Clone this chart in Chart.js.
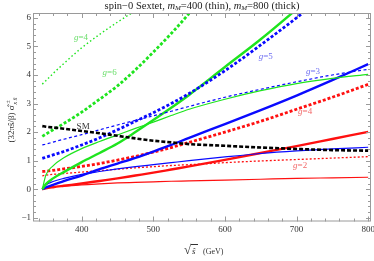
<!DOCTYPE html>
<html>
<head>
<meta charset="utf-8">
<script src="https://cdn.jsdelivr.net/npm/chart.js@4"></script>
<style>
  html, body { margin: 0; padding: 0; background: #fff; }
</style>
</head>
<body>
<canvas id="chart" width="374" height="261"></canvas>
<script>
// sqrt(s-hat) in GeV, shared by every curve
var energies = [345, 350, 360, 375, 400, 425, 450, 475, 500, 525, 550, 600, 650, 700, 750, 800];

// Standard model reference
var smValues = [2.21, 2.19, 2.16, 2.12, 2.04, 1.96, 1.87, 1.78, 1.70, 1.64, 1.58, 1.52, 1.46, 1.41, 1.37, 1.35];

// Green: m=400 thin, m=800 thick
var greenThinDotted = [3.68, 3.80, 4.05, 4.40, 4.95, 5.42, 5.85, 6.25, 6.65, null, null, null, null, null, null, null];
var greenThickDotted = [1.85, 1.93, 2.08, 2.30, 2.70, 3.15, 3.62, 4.18, 4.80, 5.45, 6.15, null, null, null, null, null];
var greenThinSolid = [0, 0.50, 0.82, 1.10, 1.42, 1.67, 1.90, 2.13, 2.35, 2.58, 2.80, 3.15, 3.45, 3.70, 3.88, 4.02];
var greenThickSolid = [0, 0.18, 0.38, 0.60, 0.95, 1.27, 1.60, 2.00, 2.42, 2.85, 3.30, 4.28, 5.25, 6.30, 7.40, null];

// Blue
var blueThinDashed = [1.55, 1.58, 1.65, 1.75, 1.91, 2.08, 2.25, 2.41, 2.57, 2.73, 2.90, 3.22, 3.50, 3.76, 4.00, 4.20];
var blueThickDotted = [1.08, 1.12, 1.20, 1.32, 1.55, 1.80, 2.08, 2.38, 2.68, 3.00, 3.35, 4.15, 5.05, 6.00, 7.00, null];
var blueThinSolid = [0, 0.15, 0.27, 0.38, 0.52, 0.62, 0.71, 0.79, 0.86, 0.93, 1.00, 1.13, 1.25, 1.34, 1.41, 1.47];
var blueThickSolid = [0, 0.06, 0.15, 0.28, 0.48, 0.70, 0.90, 1.10, 1.32, 1.55, 1.80, 2.28, 2.77, 3.28, 3.82, 4.38];

// Red
var redThinDotted = [0.47, 0.49, 0.52, 0.55, 0.60, 0.65, 0.70, 0.75, 0.79, 0.83, 0.86, 0.93, 0.99, 1.04, 1.09, 1.14];
var redThickDotted = [0.62, 0.63, 0.66, 0.71, 0.80, 0.90, 1.02, 1.15, 1.30, 1.46, 1.64, 2.00, 2.38, 2.80, 3.22, 3.67];
var redThinSolid = [0, 0.04, 0.08, 0.11, 0.15, 0.19, 0.22, 0.24, 0.26, 0.28, 0.29, 0.32, 0.35, 0.38, 0.40, 0.42];
var redThickSolid = [0, 0.03, 0.07, 0.12, 0.20, 0.29, 0.38, 0.48, 0.58, 0.69, 0.80, 1.03, 1.27, 1.51, 1.76, 2.01];

// axis ticks
var xTickLabels = [400, 500, 600, 700, 800];
var yTickLabels = [-1, 0, 1, 2, 3, 4, 5, 6];

// curve labels: text, x (GeV), y (value), colour
var curveLabels = [
  ["g=4", 399, 5.29, "#6ade6a"],
  ["g=6", 439, 4.07, "#6ade6a"],
  ["SM", 402, 2.19, "#333"],
  ["g=5", 657, 4.64, "#6f6ff2"],
  ["g=3", 723, 4.11, "#6f6ff2"],
  ["g=4", 712, 2.71, "#f26a6a"],
  ["g=2", 705, 0.81, "#f26a6a"]
];

var GREEN = "#1ee41e";
var BLUE = "#0a0aff";
var RED = "#ff1010";
var SERIF = "'Liberation Serif', 'DejaVu Serif', serif";

function series(values, color, width, dash) {
  return {
    data: values,
    borderColor: color,
    borderWidth: width,
    borderDash: dash || [],
    pointRadius: 0,
    cubicInterpolationMode: "monotone",
    fill: false,
    clip: 0
  };
}

// frame with inward ticks on all four sides, tick labels, axis titles
var frameAxes = {
  id: "frameAxes",
  afterDatasetsDraw: function (chart) {
    var ctx = chart.ctx;
    var a = chart.chartArea;
    var sx = chart.scales.x;
    var sy = chart.scales.y;
    ctx.save();
    ctx.strokeStyle = "#9a9a9a";
    ctx.lineWidth = 1;
    ctx.strokeRect(a.left + 0.5, a.top + 0.5, a.right - a.left - 1, a.bottom - a.top - 1);

    ctx.beginPath();
    for (var v = 340; v <= 800; v += 20) {
      var len = v % 100 === 0 ? 5 : 3;
      var px = Math.round(sx.getPixelForValue(v)) + 0.5;
      ctx.moveTo(px, a.bottom); ctx.lineTo(px, a.bottom - len);
      ctx.moveTo(px, a.top); ctx.lineTo(px, a.top + len);
    }
    for (var k = -5; k <= 30; k++) {
      var yv = k / 5;
      var ylen = k % 5 === 0 ? 5 : 3;
      var py = Math.round(sy.getPixelForValue(yv)) + 0.5;
      ctx.moveTo(a.left, py); ctx.lineTo(a.left + ylen, py);
      ctx.moveTo(a.right, py); ctx.lineTo(a.right - ylen, py);
    }
    ctx.stroke();

    ctx.fillStyle = "#333";
    ctx.font = "9px " + SERIF;
    ctx.textAlign = "center";
    ctx.textBaseline = "middle";
    xTickLabels.forEach(function (t) {
      ctx.fillText(String(t), sx.getPixelForValue(t), 230);
    });
    ctx.textAlign = "right";
    yTickLabels.forEach(function (t) {
      var s = t < 0 ? "\u2212" + Math.abs(t) : String(t);
      ctx.fillText(s, 31, sy.getPixelForValue(t));
    });

    // x axis title: sqrt(s-hat) (GeV)
    ctx.textAlign = "left";
    ctx.font = "13px " + SERIF;
    ctx.fillText("\u221A", 184, 251);
    ctx.beginPath();
    ctx.moveTo(191, 244.5); ctx.lineTo(198, 244.5);
    ctx.strokeStyle = "#333";
    ctx.stroke();
    ctx.font = "italic 9px " + SERIF;
    ctx.fillText("\u015D", 192, 252);
    ctx.font = "8px " + SERIF;
    ctx.fillText("(GeV)", 203, 252);

    // y axis title, rotated
    ctx.translate(12, 119);
    ctx.rotate(-Math.PI / 2);
    ctx.font = "9px " + SERIF;
    var main = "(32\u03C0\u015D/\u03B2) \u03C3\u0302";
    var w = ctx.measureText(main).width;
    var x0 = -(w + 10) / 2;
    ctx.fillText(main, x0, 0);
    ctx.font = "italic 6px " + SERIF;
    ctx.fillText("x x\u0304", x0 + w + 1, 3);
    ctx.fillText("\u00B1", x0 + w + 2, -4);
    ctx.restore();

    // title with italic m and subscript M
    ctx.save();
    ctx.fillStyle = "#222";
    ctx.textBaseline = "middle";
    ctx.textAlign = "left";
    var parts = [
      ["spin\u22120 Sextet, ", "10.5px " + SERIF, 0],
      ["m", "italic 10.5px " + SERIF, 0],
      ["M", "italic 7px " + SERIF, 2],
      ["=400 (thin), ", "10.5px " + SERIF, 0],
      ["m", "italic 10.5px " + SERIF, 0],
      ["M", "italic 7px " + SERIF, 2],
      ["=800 (thick)", "10.5px " + SERIF, 0]
    ];
    var total = 0;
    parts.forEach(function (p) { ctx.font = p[1]; total += ctx.measureText(p[0]).width; });
    var tx = (a.left + a.right) / 2 - total / 2;
    parts.forEach(function (p) {
      ctx.font = p[1];
      ctx.fillText(p[0], tx, 6 + p[2]);
      tx += ctx.measureText(p[0]).width;
    });

    // curve labels
    curveLabels.forEach(function (l) {
      var lx = sx.getPixelForValue(l[1]);
      var ly = sy.getPixelForValue(l[2]);
      ctx.fillStyle = l[3];
      if (l[0] === "SM") {
        ctx.font = "9px " + SERIF;
        ctx.textAlign = "center";
        ctx.fillText(l[0], lx, ly);
        return;
      }
      ctx.font = "italic 9px " + SERIF;
      var gw = ctx.measureText("g").width;
      ctx.font = "9px " + SERIF;
      var rest = l[0].slice(1);
      var rw = ctx.measureText(rest).width;
      var sx0 = lx - (gw + rw) / 2;
      ctx.textAlign = "left";
      ctx.font = "italic 9px " + SERIF;
      ctx.fillText("g", sx0, ly);
      ctx.font = "9px " + SERIF;
      ctx.fillText(rest, sx0 + gw, ly);
    });
    ctx.restore();
  }
};

new Chart(document.getElementById("chart").getContext("2d"), {
  type: "line",
  data: {
    labels: energies,
    datasets: [
      series(smValues, "#000", 2.6, [4, 2]),
      series(greenThinDotted, GREEN, 1.4, [1.5, 2.5]),
      series(greenThickDotted, GREEN, 2.8, [3, 2]),
      series(blueThickDotted, BLUE, 2.8, [3, 2]),
      series(blueThinDashed, BLUE, 1.2, [3, 2.5]),
      series(greenThickSolid, GREEN, 2.4),
      series(greenThinSolid, GREEN, 1.2),
      series(blueThickSolid, BLUE, 2.4),
      series(blueThinSolid, BLUE, 1.2),
      series(redThickDotted, RED, 2.8, [3, 2]),
      series(redThinDotted, RED, 1.3, [2, 2]),
      series(redThickSolid, RED, 2.4),
      series(redThinSolid, RED, 1.2)
    ].map(function (d) {
      d.data = d.data.map(function (v, i) { return { x: energies[i], y: v }; });
      return d;
    })
  },
  options: {
    responsive: false,
    animation: false,
    layout: { padding: { left: 33, right: 3, top: 13, bottom: 39.5 } },
    plugins: { legend: { display: false }, tooltip: { enabled: false } },
    scales: {
      x: { type: "linear", min: 332, max: 804, display: false },
      y: { type: "linear", min: -1.13, max: 6.17, display: false }
    }
  },
  plugins: [frameAxes]
});
</script>
</body>
</html>
